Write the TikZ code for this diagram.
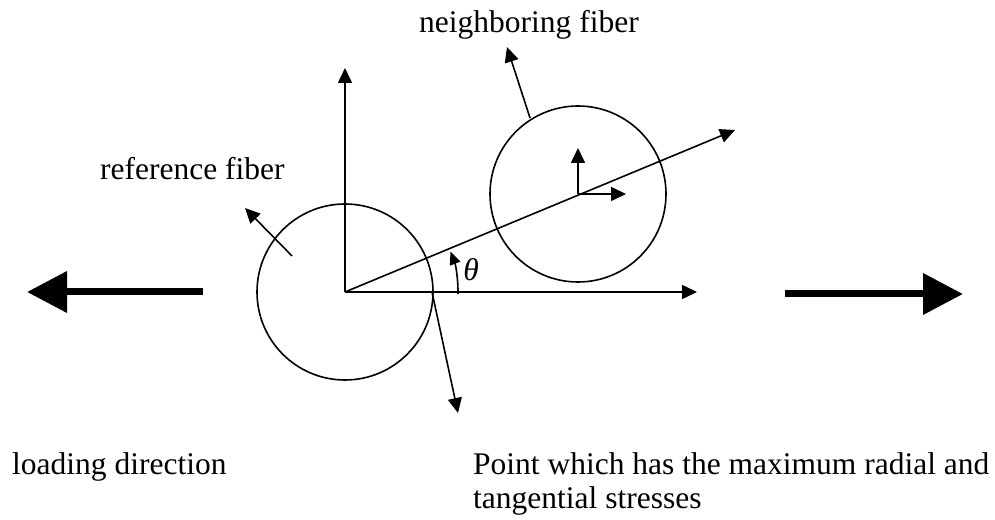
\documentclass[tikz,border=0pt]{standalone}
\usepackage{fontspec}
\setmainfont{Liberation Serif}
\usetikzlibrary{arrows.meta}
\begin{document}
\begin{tikzpicture}[x=1pt,y=1pt,
  thin/.style={line width=1.6pt},
  arr/.style={thin,-{Triangle[length=15pt,width=14pt]}},
  bigarr/.style={line width=7pt,-{Triangle[length=40pt,width=40pt]}},
  fiber/.style={circle,draw,line width=1.6pt,minimum size=176pt,inner sep=0pt},
  lab/.style={inner sep=0pt,anchor=base west,font=\fontsize{31.5}{34}\selectfont}]
\useasboundingbox (0,0) rectangle (995,519);
% fibers
\node[fiber] (ref) at (345,227) {};
\node[fiber] (nb) at (578,325) {};
% coordinates
\coordinate (ytip) at (345,451);
\coordinate (xtip) at (697,227);
\coordinate (ltip) at (735,389);
\coordinate (nup) at (578,371);
\coordinate (nright) at (626,325);
\coordinate (nrs) at (530,401);
\coordinate (nre) at (507,472);
\coordinate (rrs) at (292,263);
\coordinate (rre) at (245,311);
\coordinate (dps) at (432,227);
\coordinate (dpe) at (458,106);
\coordinate (lls) at (203,227);
\coordinate (lle) at (27,227);
\coordinate (rls) at (785,225);
\coordinate (rle) at (963,225);
% axes
\draw[arr] (ref.center) -- (ytip);
\draw[arr] (ref.center) -- (xtip);
\draw[arr] (ref.center) -- (ltip);
\draw[arr] (nb.center) -- (nup);
\draw[arr] (nb.center) -- (nright);
\draw[arr] (nrs) -- (nre);
\draw[arr] (rrs) -- (rre);
\draw[arr] (dps) -- (dpe);
% theta arc
\draw[thin,-{Triangle[length=13pt,width=11pt]}] ([shift={(-1:113)}]ref.center) arc[start angle=-1,end angle=21,radius=113];
\node[inner sep=0pt,font=\fontsize{31.5}{34}\selectfont] (theta) at (471,249) {\textit{θ}};
% loading arrows
\draw[bigarr] (lls) -- (lle);
\draw[bigarr] (rls) -- (rle);
% labels
\node[lab] (nbl) at (419,486) {neighboring fiber};
\node[lab] (refl) at (100,339) {reference fiber};
\node[lab] (load) at (12,44) {loading direction};
\node[lab] (pt1) at (473,44) {Point which has the maximum radial and};
\node[lab] (pt2) at (473,11) {tangential stresses};
\end{tikzpicture}
\end{document}
